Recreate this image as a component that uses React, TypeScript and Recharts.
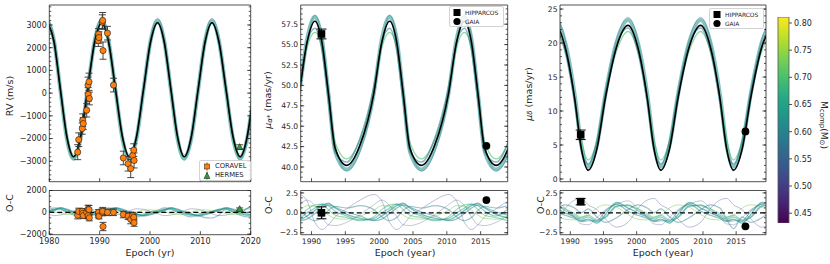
import React from "react";
import {
  ComposedChart,
  Line,
  Scatter,
  Bar,
  XAxis,
  YAxis,
  ErrorBar,
  ReferenceLine,
  Legend,
  Label,
} from "recharts";

const W = 830;
const H = 264;
const FONT = "'DejaVu Sans', sans-serif";
const INK = "#262626";
const THIN = 0.01; // axes need a non-zero box to be drawn

// viridis colours (companion mass)
const TEAL = "#21918c";
const TEAL2 = "#26828e";
const GREEN = "#44bf70";
const GREEN2 = "#35b779";
const LIME = "#7ad151";
const BLUE = "#2a788e";
const PALE = "#3e4a89";

// ---------------- RV panel ----------------
const rvYears = [1979.7, 1980.95, 1982.2, 1983.5, 1984.8, 1986.2, 1987.6, 1989.0, 1990.4, 1991.78, 1993.15, 1994.53, 1995.9, 1997.3, 1998.7, 2000.1, 2001.5, 2002.83, 2004.15, 2005.48, 2006.8, 2008.18, 2009.55, 2010.93, 2012.3, 2013.7, 2015.1, 2016.5, 2017.9, 2019.28, 2020.65];
const rvBest = [3100, 2240, 150, -1940, -2800, -1940, 150, 2240, 3100, 2240, 150, -1940, -2800, -1940, 150, 2240, 3100, 2240, 150, -1940, -2800, -1940, 150, 2240, 3100, 2240, 150, -1940, -2800, -1940, 150];
const rvA = [3190, 2290, 130, -2010, -2880, -2010, 130, 2290, 3190, 2290, 130, -2010, -2880, -2010, 130, 2290, 3190, 2290, 130, -2010, -2880, -2010, 130, 2290, 3190, 2290, 130, -2010, -2880, -2010, 130];
const rvB = [3120, 2150, 40, -2080, -2950, -2010, 190, 2320, 3120, 2150, 40, -2080, -2950, -2010, 190, 2320, 3120, 2150, 40, -2080, -2950, -2010, 190, 2320, 3120, 2150, 40, -2080, -2950, -2010, 190];
const rvC = [3300, 2450, 300, -1850, -2700, -1850, 300, 2450, 3300, 2450, 300, -1850, -2700, -1850, 300, 2450, 3300, 2450, 300, -1850, -2700, -1850, 300, 2450, 3300, 2450, 300, -1850, -2700, -1850, 300];
const rvD = [3060, 2290, 260, -1870, -2830, -2060, 40, 2170, 3060, 2290, 260, -1870, -2830, -2060, 40, 2170, 3060, 2290, 260, -1870, -2830, -2060, 40, 2170, 3060, 2290, 260, -1870, -2830, -2060, 40];

const rvResP1 = [-130, -300, -250, -60, 150, 320, 280, 80, -130, -300, -250, -60, 150, 320, 280, 80, -130, -300, -250, -60, 150, 320, 280, 80, -130, -300, -250, -60, 150, 320, 280];
const rvResT1 = [0, 220, 420, 230, 0, -170, -300, -150, 0, 220, 420, 230, 0, -170, -300, -150, 0, 220, 420, 230, 0, -170, -300, -150, 0, 220, 420, 230, 0, 350, 600];
const rvResT2 = [80, 300, 350, 120, -80, -250, -250, -60, 80, 300, 350, 120, -80, -250, -250, -60, 80, 300, 350, 120, -80, -250, -250, -60, 80, 300, 350, 120, -80, -250, -250];
const rvResT3 = [-50, 150, 380, 300, 60, -120, -330, -220, -50, 150, 380, 300, 60, -120, -330, -220, -50, 150, 380, 300, 60, -120, -330, -220, -50, 150, 380, 300, 60, -120, -330];
const rvResG1 = [100, 250, 250, 50, -150, -250, -150, 0, 100, 250, 250, 50, -150, -250, -150, 0, 100, 250, 250, 50, -150, -250, -150, 0, 100, 250, 250, 50, -150, -250, -150];
const rvResL1 = [160, 70, -120, -200, -170, 0, 200, 230, 160, 70, -120, -200, -170, 0, 200, 230, 160, 70, -120, -200, -170, 0, 200, 230, 160, 70, -120, -200, -170, 0, 200];
const rvResB1 = [200, 400, 300, 0, -250, -420, -260, 40, 200, 400, 300, 0, -250, -420, -260, 40, 200, 400, 300, 0, -250, -420, -300, -480, -520, -250, 300, 0, -250, -420, -260];

const coravelYear = [1985.64, 1985.84, 1986.55, 1986.63, 1986.75, 1987.43, 1987.69, 1987.89, 1987.72, 1987.95, 1989.73, 1989.8, 1989.87, 1990.53, 1990.6, 1990.67, 1991.55, 1992.75, 1994.7, 1995.65, 1996.17, 1996.56, 1996.78, 1996.84];
const coravelRv = [-2600, -2050, -1560, -1195, -1340, -750, 354, 500, -58, -235, 2314, 2597, 2447, 3128, 3200, 1872, 2640, 354, -2855, -3111, -3320, -2743, -2510, -2965];
const coravelErr = [330, 300, 250, 280, 260, 300, 350, 380, 300, 280, 260, 250, 250, 320, 350, 380, 300, 300, 300, 320, 400, 300, 280, 330];
const coravelRes = [-270, 80, 100, -100, -300, 0, 300, 250, -300, -500, -200, 0, -350, 0, 100, -1300, 0, 0, -200, -350, -650, -300, -450, -950];
const hermesYear = [2017.8];
const hermesRv = [-2376];
const hermesErr = [100];
const hermesRes = [300];

// ---------------- mu_alpha* panel ----------------
const pmaYears = [1984.15, 1986.15, 1988.15, 1989.33, 1990.5, 1991.55, 1992.5, 1993.5, 1995.2, 1997.2, 1999.2, 2000.38, 2001.55, 2002.6, 2003.55, 2004.55, 2006.25, 2008.25, 2010.25, 2011.43, 2012.6, 2013.65, 2014.6, 2015.6, 2017.3, 2019.3, 2021.3];
const pmaBest = [40.2, 42.75, 49.0, 55.25, 57.85, 55.25, 49.0, 42.3, 40.2, 42.75, 49.0, 55.25, 57.85, 55.25, 49.0, 42.3, 40.2, 42.75, 49.0, 55.25, 57.85, 55.25, 49.0, 42.3, 40.2, 42.75, 49.0];
const pmaA = [39.7, 42.4, 49.0, 55.6, 58.4, 55.6, 49.0, 41.9, 39.7, 42.4, 49.0, 55.6, 58.4, 55.6, 49.0, 41.9, 39.7, 42.4, 49.0, 55.6, 58.4, 55.6, 49.0, 41.9, 39.7, 42.4, 49.0];
const pmaB = [41.0, 43.4, 49.1, 54.6, 56.5, 54.6, 49.1, 43.0, 41.0, 43.4, 49.1, 54.6, 56.5, 54.6, 49.1, 43.0, 41.0, 43.4, 49.1, 54.6, 56.5, 54.6, 49.1, 43.0, 41.0, 43.4, 49.1];
const pmaC = [39.5, 42.0, 48.6, 55.3, 58.6, 56.0, 49.6, 42.5, 39.5, 42.0, 48.6, 55.3, 58.6, 56.0, 49.6, 42.5, 39.5, 42.0, 48.6, 55.3, 58.6, 56.0, 49.6, 42.5, 39.5, 42.0, 48.6];
const pmaD = [40.6, 43.6, 49.8, 55.2, 57.0, 54.2, 48.0, 41.8, 40.6, 43.6, 49.8, 55.2, 57.0, 54.2, 48.0, 41.8, 40.6, 43.6, 49.8, 55.2, 57.0, 54.2, 48.0, 41.8, 40.6, 43.6, 49.8];

const pmaResP1 = [0.5, 1.6, 2.3, 1.5, -1.2, -2.1, -1.5, -0.5, 0.5, 1.6, 2.3, 1.5, -1.2, -2.1, -1.5, -0.5, 0.5, 1.6, 2.3, 1.5, -1.2, -2.1, -1.5, -0.5, 0.5, 1.6, 2.3];
const pmaResP2 = [-1.2, -0.2, 1.0, 1.6, 0.9, -0.5, -1.5, -1.6, -1.2, -0.2, 1.0, 1.6, 0.9, -0.5, -1.5, -1.6, -1.2, -0.2, 1.0, 1.6, 0.9, -0.5, -1.5, -1.6, -1.2, -0.2, 1.0];
const pmaResT1 = [-0.2, -0.7, -0.9, -0.4, 0.3, 0.9, 1.2, 0.6, -0.2, -0.7, -0.9, -0.4, 0.3, 0.9, 1.2, 0.6, -0.2, -0.7, -0.9, -0.4, 0.3, 0.9, 1.2, 0.6, -0.2, -0.7, -0.9];
const pmaResT2 = [-0.4, -0.9, -0.7, 0.0, 0.6, 1.1, 0.9, 0.2, -0.4, -0.9, -0.7, 0.0, 0.6, 1.1, 0.9, 0.2, -0.4, -0.9, -0.7, 0.0, 0.6, 1.1, 0.9, 0.2, -0.4, 0.6, 1.4];
const pmaResT3 = [0.1, -0.4, -1.0, -0.8, -0.1, 0.6, 1.0, 0.7, 0.1, -0.4, -1.0, -0.8, -0.1, 0.6, 1.0, 0.7, 0.1, -0.4, -1.0, -0.8, -0.1, 0.6, 1.0, 0.7, 0.1, -0.4, -1.0];
const pmaResG1 = [-0.6, -1.0, -0.5, 0.4, 1.0, 1.1, 0.4, -0.3, -0.6, -1.0, -0.5, 0.4, 1.0, 1.1, 0.4, -0.3, -0.6, -1.0, -0.5, 0.4, 1.0, 1.1, 0.4, -0.3, -0.6, -1.0, -0.5];
const pmaResL1 = [-0.8, -0.4, 0.3, 0.9, 0.8, 0.3, -0.3, -0.7, -0.8, -0.4, 0.3, 0.9, 0.8, 0.3, -0.3, -0.7, -0.8, -0.4, 0.3, 0.9, 0.8, 0.3, -0.3, -0.7, -0.8, -0.4, 0.3];
const pmaResB1 = [0.6, 0.9, 0.4, -0.5, -1.0, -0.6, 0.3, 0.8, 0.6, 0.9, 0.4, -0.5, -1.0, -0.6, 0.3, 0.8, 0.6, 0.9, 0.4, -0.5, -1.0, -0.6, 0.3, 0.8, 0.6, 0.9, 0.4];

// ---------------- mu_delta panel ----------------
const pmdYears = [1981.75, 1983.05, 1984.35, 1986.05, 1987.75, 1989.2, 1990.65, 1991.68, 1992.7, 1994.0, 1995.3, 1997.0, 1998.7, 2000.15, 2001.6, 2002.63, 2003.65, 2004.95, 2006.25, 2007.95, 2009.65, 2011.1, 2012.55, 2013.58, 2014.6, 2015.9, 2017.2, 2018.9, 2020.6];
const pmdBest = [1.3, 4.4, 11.95, 19.5, 22.6, 19.5, 11.95, 4.4, 1.3, 4.4, 11.95, 19.5, 22.6, 19.5, 11.95, 4.4, 1.3, 4.4, 11.95, 19.5, 22.6, 19.5, 11.95, 4.4, 1.3, 4.4, 11.95, 19.5, 22.6];
const pmdA = [1.8, 4.9, 12.5, 20.2, 23.4, 20.2, 12.5, 4.9, 1.8, 4.9, 12.5, 20.2, 23.4, 20.2, 12.5, 4.9, 1.8, 4.9, 12.5, 20.2, 23.4, 20.2, 12.5, 4.9, 1.8, 4.9, 12.5, 20.2, 23.4];
const pmdB = [2.8, 5.6, 12.2, 18.9, 21.7, 18.9, 12.2, 5.6, 2.8, 5.6, 12.2, 18.9, 21.7, 18.9, 12.2, 5.6, 2.8, 5.6, 12.2, 18.9, 21.7, 18.9, 12.2, 5.6, 2.8, 5.6, 12.2, 18.9, 21.7];
const pmdC = [1.2, 4.4, 12.6, 20.6, 23.8, 20.6, 12.0, 4.3, 1.2, 4.4, 12.6, 20.6, 23.8, 20.6, 12.0, 4.3, 1.2, 4.4, 12.6, 20.6, 23.8, 20.6, 12.0, 4.3, 1.2, 4.4, 12.6, 20.6, 23.8];
const pmdD = [2.2, 5.4, 12.8, 19.8, 22.2, 18.8, 11.2, 4.2, 2.2, 5.4, 12.8, 19.8, 22.2, 18.8, 11.2, 4.2, 2.2, 5.4, 12.8, 19.8, 22.2, 18.8, 11.2, 4.2, 2.2, 5.4, 12.8, 19.8, 22.2];

const pmdResP1 = [1.0, 0.4, -0.8, -1.8, -1.2, 0.5, 1.6, 1.8, 1.0, 0.4, -0.8, -1.8, -1.2, 0.5, 1.6, 1.8, 1.0, 0.4, -0.8, -1.8, -1.2, 0.5, 1.6, 1.8, 1.0, 0.4, -0.8, -1.8, -1.2];
const pmdResP2 = [-1.5, -0.6, 0.4, 1.1, 1.5, 0.6, -0.6, -1.4, -1.5, -0.6, 0.4, 1.1, 1.5, 0.6, -0.6, -1.4, -1.5, -0.6, 0.4, 1.1, 1.5, 0.6, -0.6, -1.4, -1.5, -0.6, 0.4, 1.1, 1.5];
const pmdResT1 = [-0.8, -1.3, -0.2, 1.3, 0.6, 0.0, -0.5, -1.0, -0.8, -1.3, -0.2, 1.3, 0.6, 0.0, -0.5, -1.0, -0.8, -1.3, -0.2, 1.3, 0.6, 0.0, -0.5, -1.0, -0.8, -1.3, -0.2, 1.3, 0.6];
const pmdResT2 = [-0.5, -1.1, -0.6, 0.8, 1.0, 0.3, -0.3, -0.8, -0.5, -1.1, -0.6, 0.8, 1.0, 0.3, -0.3, -0.8, -0.5, -1.1, -0.6, 0.8, 1.0, 0.3, -0.3, -0.8, -0.5, -1.1, -0.6, 0.8, 1.0];
const pmdResT3 = [-1.0, -1.0, 0.2, 1.1, 0.2, -0.3, -0.7, -1.1, -1.0, -1.0, 0.2, 1.1, 0.2, -0.3, -0.7, -1.1, -1.0, -1.0, 0.2, 1.1, 0.2, -0.3, -0.7, -1.1, -1.0, -1.0, 0.2, 1.1, 0.2];
const pmdResG1 = [-0.3, -0.9, -0.5, 0.9, 0.9, 0.5, -0.1, -0.6, -0.3, -0.9, -0.5, 0.9, 0.9, 0.5, -0.1, -0.6, -0.3, -0.9, -0.5, 0.9, 0.9, 0.5, -0.1, -0.6, -0.3, -0.9, -0.5, 0.9, 0.9];
const pmdResL1 = [-0.3, 0.6, 1.0, 0.7, -0.2, -0.8, -0.9, -0.5, -0.3, 0.6, 1.0, 0.7, -0.2, -0.8, -0.9, -0.5, -0.3, 0.6, 1.0, 0.7, -0.2, -0.8, -0.9, -0.5, -0.3, 0.6, 1.0, 0.7, -0.2];
const pmdResB1 = [0.5, -0.5, -1.2, -0.6, 0.4, 1.0, 0.6, 0.0, 0.5, -0.5, -1.2, -0.6, 0.4, 1.0, 0.6, 0.0, 0.5, -0.5, -1.2, -0.6, 0.4, 1.0, 0.6, -0.8, -2.0, -0.5, -1.2, -0.6, 0.4];

// astrometric points: HIPPARCOS, GAIA (epochs as read in each panel)
const pmaEpochs = [1991.47, 2015.85];
const pmaObs = [56.3, 42.6];
const pmaObsErr = [0.6, 0.1];
const pmaObsRes = [0.0, 1.6];
const pmaObsResErr = [0.75, 0.1];
const pmdEpochs = [1991.57, 2016.4];
const pmdObs = [6.5, 7.0];
const pmdObsErr = [0.7, 0.1];
const pmdObsRes = [1.4, -1.7];
const pmdObsResErr = [0.4, 0.1];

// colour bar range (companion mass, Msun)
const massRange = [0.432, 0.811];

// ticks
const rvXTicks = [1980, 1990, 2000, 2010, 2020];
const rvYTicks = [-3000, -2000, -1000, 0, 1000, 2000, 3000];
const rvResTicks = [-2000, 0, 2000];
const pmXTicks = [1990, 1995, 2000, 2005, 2010, 2015];
const pmaYTicks = [40, 42.5, 45, 47.5, 50, 52.5, 55, 57.5];
const pmdYTicks = [0, 5, 10, 15, 20, 25];
const pmResTicks = [-2.5, 0, 2.5];
const massTicks = [0.45, 0.5, 0.55, 0.6, 0.65, 0.7, 0.75, 0.8];
const legendRv = ["CORAVEL", "HERMES"];
const legendPm = ["HIPPARCOS", "GAIA"];

const steps = (a: number, b: number, d: number) => {
  const out: number[] = [];
  for (let v = a; v <= b + 1e-9; v += d) out.push(+v.toFixed(4));
  return out;
};

// panel boxes in page pixels
const COLS = [
  { x0: 49.3, x1: 250.7 },
  { x0: 300.7, x1: 507.7 },
  { x0: 560, x1: 766 },
];
const TOP = { y0: 5, y1: 181.7 };
const OC = { y0: 190.5, y1: 234.7 };
const marginOf = (c: { x0: number; x1: number }, r: { y0: number; y1: number }) => ({
  left: c.x0 - 2 * THIN,
  right: W - c.x1 - 2 * THIN,
  top: r.y0 - 2 * THIN,
  bottom: H - r.y1 - 2 * THIN,
});

const minus = (s: string) => s.replace("-", "\u2212");
const fmtInt = (v: number) => minus(String(v));
const fmt1 = (v: number) => minus(v.toFixed(1));
const blank = () => "";

const rowsOf = (xs: number[], cols: Record<string, number[]>) =>
  xs.map((x, i) => {
    const r: Record<string, number> = { x };
    Object.keys(cols).forEach((k) => (r[k] = cols[k][i]));
    return r;
  });

const rvRows = rowsOf(rvYears, { best: rvBest, a: rvA, b: rvB, c: rvC, d: rvD });
const rvResRows = rowsOf(rvYears, { p1: rvResP1, t1: rvResT1, t2: rvResT2, t3: rvResT3, g1: rvResG1, l1: rvResL1, b1: rvResB1 });
const pmaRows = rowsOf(pmaYears, { best: pmaBest, a: pmaA, b: pmaB, c: pmaC, d: pmaD });
const pmaResRows = rowsOf(pmaYears, { p1: pmaResP1, p2: pmaResP2, t1: pmaResT1, t2: pmaResT2, t3: pmaResT3, g1: pmaResG1, l1: pmaResL1, b1: pmaResB1 });
const pmdRows = rowsOf(pmdYears, { best: pmdBest, a: pmdA, b: pmdB, c: pmdC, d: pmdD });
const pmdResRows = rowsOf(pmdYears, { p1: pmdResP1, p2: pmdResP2, t1: pmdResT1, t2: pmdResT2, t3: pmdResT3, g1: pmdResG1, l1: pmdResL1, b1: pmdResB1 });

const coravelPts = coravelYear.map((x, i) => ({ x, y: coravelRv[i], e: coravelErr[i] }));
const coravelResPts = coravelYear.map((x, i) => ({ x, y: coravelRes[i], e: coravelErr[i] }));
const hermesPts = hermesYear.map((x, i) => ({ x, y: hermesRv[i], e: hermesErr[i] }));
const hermesResPts = hermesYear.map((x, i) => ({ x, y: hermesRes[i], e: hermesErr[i] }));

type Spec = { k: string; c: string; w: number; o: number };
const topSpecs: Spec[] = [
  { k: "c", c: PALE, w: 1, o: 0.35 },
  { k: "a", c: TEAL, w: 4, o: 0.55 },
  { k: "b", c: GREEN, w: 1.3, o: 0.6 },
  { k: "d", c: BLUE, w: 1.5, o: 0.55 },
];
const resSpecs: Spec[] = [
  { k: "p1", c: PALE, w: 1, o: 0.35 },
  { k: "p2", c: PALE, w: 1, o: 0.3 },
  { k: "b1", c: BLUE, w: 1.2, o: 0.45 },
  { k: "l1", c: LIME, w: 1, o: 0.5 },
  { k: "g1", c: GREEN2, w: 1.2, o: 0.5 },
  { k: "t3", c: TEAL2, w: 1.2, o: 0.5 },
  { k: "t2", c: TEAL, w: 1.2, o: 0.5 },
  { k: "t1", c: TEAL, w: 1.4, o: 0.6 },
];

const lines = (specs: Spec[], rows: Record<string, number>[]) =>
  specs
    .filter((s) => rows[0][s.k] !== undefined)
    .map((s) => (
      <Line
        key={s.k}
        xAxisId="b"
        yAxisId="l"
        dataKey={s.k}
        type="monotone"
        stroke={s.c}
        strokeWidth={s.w}
        strokeOpacity={s.o}
        dot={false}
        activeDot={false}
        isAnimationActive={false}
      />
    ));

const bestLine = (
  <Line
    xAxisId="b"
    yAxisId="l"
    dataKey="best"
    type="monotone"
    stroke="#000"
    strokeWidth={1.6}
    dot={false}
    activeDot={false}
    isAnimationActive={false}
  />
);

function title(x: number, y: number, body: React.ReactNode, angle = 0, fs = 9.5) {
  return (
    <Label
      content={() => (
        <text
          x={x}
          y={y}
          transform={angle ? `rotate(${angle} ${x} ${y})` : undefined}
          textAnchor="middle"
          dominantBaseline="central"
          fontSize={fs}
          fontFamily={FONT}
          fill={INK}
        >
          {body}
        </text>
      )}
    />
  );
}

type FrameCfg = {
  xDomain: [number, number];
  yDomain: [number, number];
  xTicks: number[];
  xMinor: number[];
  yTicks: number[];
  yMinor: number[];
  xLabels: boolean;
  yFmt: (v: number) => string;
  fs: number;
  yTitle?: React.ReactNode;
  xTitle?: React.ReactNode;
};

function frame(f: FrameCfg) {
  const tickStyle = { fontSize: f.fs, fill: INK, fontFamily: FONT };
  const ln = { stroke: INK, strokeWidth: 0.8 };
  const common = { allowDataOverflow: true, interval: 0 as const, type: "number" as const };
  return [
    <XAxis key="xb" xAxisId="b" dataKey="x" {...common} domain={f.xDomain} ticks={f.xTicks} height={THIN} tickSize={-3.5} tickMargin={7} axisLine={ln} tickLine={ln} tick={tickStyle} tickFormatter={f.xLabels ? (v: number) => String(v) : blank}>
      {f.xTitle}
    </XAxis>,
    <XAxis key="xbm" xAxisId="bm" {...common} domain={f.xDomain} ticks={f.xMinor} height={THIN} tickSize={-2} axisLine={false} tickLine={ln} tick={tickStyle} tickFormatter={blank} />,
    <XAxis key="xt" xAxisId="t" orientation="top" {...common} domain={f.xDomain} ticks={f.xTicks} height={THIN} tickSize={-3.5} axisLine={ln} tickLine={ln} tick={tickStyle} tickFormatter={blank} />,
    <XAxis key="xtm" xAxisId="tm" orientation="top" {...common} domain={f.xDomain} ticks={f.xMinor} height={THIN} tickSize={-2} axisLine={false} tickLine={ln} tick={tickStyle} tickFormatter={blank} />,
    <YAxis key="yl" yAxisId="l" dataKey="y" {...common} domain={f.yDomain} ticks={f.yTicks} width={THIN} tickSize={-3.5} tickMargin={6} axisLine={ln} tickLine={ln} tick={tickStyle} tickFormatter={f.yFmt}>
      {f.yTitle}
    </YAxis>,
    <YAxis key="ylm" yAxisId="lm" {...common} domain={f.yDomain} ticks={f.yMinor} width={THIN} tickSize={-2} axisLine={false} tickLine={ln} tick={tickStyle} tickFormatter={blank} />,
    <YAxis key="yr" yAxisId="r" orientation="right" {...common} domain={f.yDomain} ticks={f.yTicks} width={THIN} tickSize={-3.5} axisLine={ln} tickLine={ln} tick={tickStyle} tickFormatter={blank} />,
    <YAxis key="yrm" yAxisId="rm" orientation="right" {...common} domain={f.yDomain} ticks={f.yMinor} width={THIN} tickSize={-2} axisLine={false} tickLine={ln} tick={tickStyle} tickFormatter={blank} />,
  ];
}

const dot = (fill: string, r: number) => (p: any) =>
  p.cx == null ? <g /> : <circle cx={p.cx} cy={p.cy} r={r} fill={fill} stroke="#1a1a1a" strokeWidth={0.6} />;
const tri = (p: any) =>
  p.cx == null ? <g /> : (
    <polygon
      points={`${p.cx},${p.cy - 3.4} ${p.cx - 3.2},${p.cy + 2.4} ${p.cx + 3.2},${p.cy + 2.4}`}
      fill="#2ca02c"
      stroke="#1a1a1a"
      strokeWidth={0.6}
    />
  );
const square = (p: any) =>
  p.cx == null ? <g /> : <rect x={p.cx - 3.8} y={p.cy - 3.8} width={7.6} height={7.6} fill="#000" />;
const blackDot = (p: any) => (p.cx == null ? <g /> : <circle cx={p.cx} cy={p.cy} r={3.9} fill="#000" />);

function pmPoints(epochs: number[], vals: number[], errs: number[]) {
  const hip = [{ x: epochs[0], y: vals[0], e: errs[0] }];
  const gaia = [{ x: epochs[1], y: vals[1], e: errs[1] }];
  return [
    <Scatter key="hip" data={hip} xAxisId="b" yAxisId="l" dataKey="y" shape={square} isAnimationActive={false}>
      <ErrorBar dataKey="e" direction="y" width={5} stroke="#000" strokeWidth={1} />
    </Scatter>,
    <Scatter key="gaia" data={gaia} xAxisId="b" yAxisId="l" dataKey="y" shape={blackDot} isAnimationActive={false} />,
  ];
}

function rvPoints(cor: any[], her: any[]) {
  return [
    <Scatter key="cor" data={cor} xAxisId="b" yAxisId="l" dataKey="y" shape={dot("#ff7f0e", 3.1)} isAnimationActive={false}>
      <ErrorBar dataKey="e" direction="y" width={3.5} stroke="#333" strokeWidth={0.9} />
    </Scatter>,
    <Scatter key="her" data={her} xAxisId="b" yAxisId="l" dataKey="y" shape={tri} isAnimationActive={false}>
      <ErrorBar dataKey="e" direction="y" width={3.5} stroke="#333" strokeWidth={0.9} />
    </Scatter>,
  ];
}

const zeroLine = (
  <ReferenceLine xAxisId="b" yAxisId="l" y={0} stroke="#000" strokeWidth={1.3} strokeDasharray="5 3" />
);

function legendBox(labels: string[], icons: React.ReactNode[], fs: number) {
  return () => (
    <div
      style={{
        border: "1px solid #d3d3d3",
        borderRadius: 2,
        background: "rgba(255,255,255,0.85)",
        padding: "1px 3px 1px 2px",
        fontFamily: FONT,
        fontSize: fs,
        color: INK,
        boxSizing: "border-box",
        width: "100%",
        height: "100%",
      }}
    >
      {labels.map((lab, i) => (
        <div key={lab} style={{ display: "flex", alignItems: "center", height: 9 }}>
          <svg width={10} height={9} style={{ flex: "none" }}>
            {icons[i]}
          </svg>
          <span style={{ marginLeft: 3, whiteSpace: "nowrap" }}>{lab}</span>
        </div>
      ))}
    </div>
  );
}

const rvIcons = [
  <g key="c">
    <line x1={5} y1={0.5} x2={5} y2={8.5} stroke="#333" strokeWidth={0.8} />
    <rect x={2.5} y={2} width={5} height={5} fill="#ff7f0e" stroke="#1a1a1a" strokeWidth={0.5} />
  </g>,
  <g key="h">
    <line x1={5} y1={0.5} x2={5} y2={8.5} stroke="#333" strokeWidth={0.8} />
    <polygon points="5,1.5 2,7.5 8,7.5" fill="#2ca02c" stroke="#1a1a1a" strokeWidth={0.5} />
  </g>,
];
const pmIcons = [
  <rect key="s" x={1.5} y={1} width={7} height={7} fill="#000" />,
  <circle key="o" cx={5} cy={4.5} r={3.6} fill="#000" />,
];

const muA = (
  <>
    <tspan fontStyle="italic">μ</tspan>
    <tspan dy={2.5} fontSize={7}>
      <tspan fontStyle="italic">α</tspan>*
    </tspan>
    <tspan dy={-2.5}> (mas/yr)</tspan>
  </>
);
const muD = (
  <>
    <tspan fontStyle="italic">μ</tspan>
    <tspan dy={2.5} fontSize={7} fontStyle="italic">δ</tspan>
    <tspan dy={-2.5}> (mas/yr)</tspan>
  </>
);
const massTitle = (
  <>
    M<tspan dy={2.5} fontSize={7}>comp</tspan>
    <tspan dy={-2.5}>(M</tspan>
    <tspan dy={2.5} fontSize={7}>⊙</tspan>
    <tspan dy={-2.5}>)</tspan>
  </>
);

const layer: React.CSSProperties = { position: "absolute", left: 0, top: 0 };

export default function App() {
  const maDomain: [number, number] = [1988.4, 2019.0];
  const mdDomain: [number, number] = [1988.45, 2019.5];
  const yearMinor = steps(1989, 2019, 1);
  const barRows = [{ name: "mass", span: massRange }];
  return (
    <div style={{ position: "absolute", left: 0, top: 0, width: W, height: H, background: "#fff" }}>
      {/* RV */}
      <div style={layer}>
        <ComposedChart width={W} height={H} data={rvRows} margin={marginOf(COLS[0], TOP)}>
          {frame({
            xDomain: [1980, 2020],
            yDomain: [-3900, 3880],
            xTicks: rvXTicks,
            xMinor: steps(1980, 2020, 2),
            yTicks: rvYTicks,
            yMinor: steps(-3800, 3800, 200),
            xLabels: false,
            yFmt: fmtInt,
            fs: 8,
            yTitle: title(9.5, 96, "RV (m/s)", -90),
          })}
          {lines(topSpecs, rvRows)}
          {bestLine}
          {rvPoints(coravelPts, hermesPts)}
          <Legend
            layout="vertical"
            align="center"
            verticalAlign="middle"
            wrapperStyle={{ left: 199, top: 159.5, width: 52, height: 21 }}
            content={legendBox(legendRv, rvIcons, 6.8)}
          />
        </ComposedChart>
      </div>
      <div style={layer}>
        <ComposedChart width={W} height={H} data={rvResRows} margin={marginOf(COLS[0], OC)}>
          {frame({
            xDomain: [1980, 2020],
            yDomain: [-2050, 2000],
            xTicks: rvXTicks,
            xMinor: steps(1980, 2020, 2),
            yTicks: rvResTicks,
            yMinor: steps(-2000, 2000, 500),
            xLabels: true,
            yFmt: fmtInt,
            fs: 8,
            yTitle: title(9.5, 203, "O-C", -90),
            xTitle: title(150, 252.5, "Epoch (yr)"),
          })}
          {lines(resSpecs, rvResRows)}
          {zeroLine}
          {rvPoints(coravelResPts, hermesResPts)}
        </ComposedChart>
      </div>

      {/* mu alpha* */}
      <div style={layer}>
        <ComposedChart width={W} height={H} data={pmaRows} margin={marginOf(COLS[1], TOP)}>
          {frame({
            xDomain: maDomain,
            yDomain: [38.2, 59.85],
            xTicks: pmXTicks,
            xMinor: yearMinor,
            yTicks: pmaYTicks,
            yMinor: steps(38.75, 59.5, 0.625),
            xLabels: false,
            yFmt: fmt1,
            fs: 7.6,
            yTitle: title(267, 100, muA, -90),
          })}
          {lines(topSpecs, pmaRows)}
          {bestLine}
          {pmPoints(pmaEpochs, pmaObs, pmaObsErr)}
          <Legend
            layout="vertical"
            align="center"
            verticalAlign="middle"
            wrapperStyle={{ left: 449, top: 6, width: 55, height: 21 }}
            content={legendBox(legendPm, pmIcons, 5.9)}
          />
        </ComposedChart>
      </div>
      <div style={layer}>
        <ComposedChart width={W} height={H} data={pmaResRows} margin={marginOf(COLS[1], OC)}>
          {frame({
            xDomain: maDomain,
            yDomain: [-2.75, 2.8],
            xTicks: pmXTicks,
            xMinor: yearMinor,
            yTicks: pmResTicks,
            yMinor: steps(-2.5, 2.5, 0.625),
            xLabels: true,
            yFmt: fmt1,
            fs: 7.6,
            yTitle: title(268, 205, "O-C", -90),
            xTitle: title(405, 252.5, "Epoch (year)"),
          })}
          {lines(resSpecs, pmaResRows)}
          {zeroLine}
          {pmPoints(pmaEpochs, pmaObsRes, pmaObsResErr)}
        </ComposedChart>
      </div>

      {/* mu delta */}
      <div style={layer}>
        <ComposedChart width={W} height={H} data={pmdRows} margin={marginOf(COLS[2], TOP)}>
          {frame({
            xDomain: mdDomain,
            yDomain: [-0.4, 25.6],
            xTicks: pmXTicks,
            xMinor: yearMinor,
            yTicks: pmdYTicks,
            yMinor: steps(0, 25, 1),
            xLabels: false,
            yFmt: fmtInt,
            fs: 7.6,
            yTitle: title(527.5, 94, muD, -90),
          })}
          {lines(topSpecs, pmdRows)}
          {bestLine}
          {pmPoints(pmdEpochs, pmdObs, pmdObsErr)}
          <Legend
            layout="vertical"
            align="center"
            verticalAlign="middle"
            wrapperStyle={{ left: 709, top: 8, width: 55, height: 21 }}
            content={legendBox(legendPm, pmIcons, 5.9)}
          />
        </ComposedChart>
      </div>
      <div style={layer}>
        <ComposedChart width={W} height={H} data={pmdResRows} margin={marginOf(COLS[2], OC)}>
          {frame({
            xDomain: mdDomain,
            yDomain: [-2.75, 2.8],
            xTicks: pmXTicks,
            xMinor: yearMinor,
            yTicks: pmResTicks,
            yMinor: steps(-2.5, 2.5, 0.625),
            xLabels: true,
            yFmt: fmt1,
            fs: 7.6,
            yTitle: title(540, 205, "O-C", -90),
            xTitle: title(663, 252.5, "Epoch (year)"),
          })}
          {lines(resSpecs, pmdResRows)}
          {zeroLine}
          {pmPoints(pmdEpochs, pmdObsRes, pmdObsResErr)}
        </ComposedChart>
      </div>

      {/* colour bar */}
      <div style={layer}>
        <ComposedChart
          width={W}
          height={H}
          data={barRows}
          barCategoryGap={0}
          margin={{ left: 778 - THIN, right: W - 789 - THIN, top: 17, bottom: H - 223 - THIN }}
        >
          <defs>
            <linearGradient id="viridisBar" x1="0" y1="1" x2="0" y2="0">
              <stop offset="0%" stopColor="#440154" />
              <stop offset="10%" stopColor="#482475" />
              <stop offset="20%" stopColor="#414487" />
              <stop offset="30%" stopColor="#355f8d" />
              <stop offset="40%" stopColor="#2a788e" />
              <stop offset="50%" stopColor="#21918c" />
              <stop offset="60%" stopColor="#22a884" />
              <stop offset="70%" stopColor="#44bf70" />
              <stop offset="80%" stopColor="#7ad151" />
              <stop offset="90%" stopColor="#bddf26" />
              <stop offset="100%" stopColor="#fde725" />
            </linearGradient>
          </defs>
          <XAxis xAxisId="c" dataKey="name" type="category" height={THIN} axisLine={false} tickLine={false} tick={false} />
          <YAxis
            yAxisId="c"
            orientation="right"
            type="number"
            domain={massRange}
            allowDataOverflow
            ticks={massTicks}
            interval={0}
            width={THIN}
            tickSize={3}
            tickMargin={2}
            axisLine={false}
            tickLine={{ stroke: INK, strokeWidth: 0.8 }}
            tick={{ fontSize: 8, fill: INK, fontFamily: FONT }}
            tickFormatter={(v: number) => v.toFixed(2)}
          >
            {title(824, 125, massTitle, 90, 9)}
          </YAxis>
          <Bar
            xAxisId="c"
            yAxisId="c"
            dataKey="span"
            fill="url(#viridisBar)"
            stroke="#555"
            strokeWidth={0.8}
            isAnimationActive={false}
          />
        </ComposedChart>
      </div>
    </div>
  );
}
